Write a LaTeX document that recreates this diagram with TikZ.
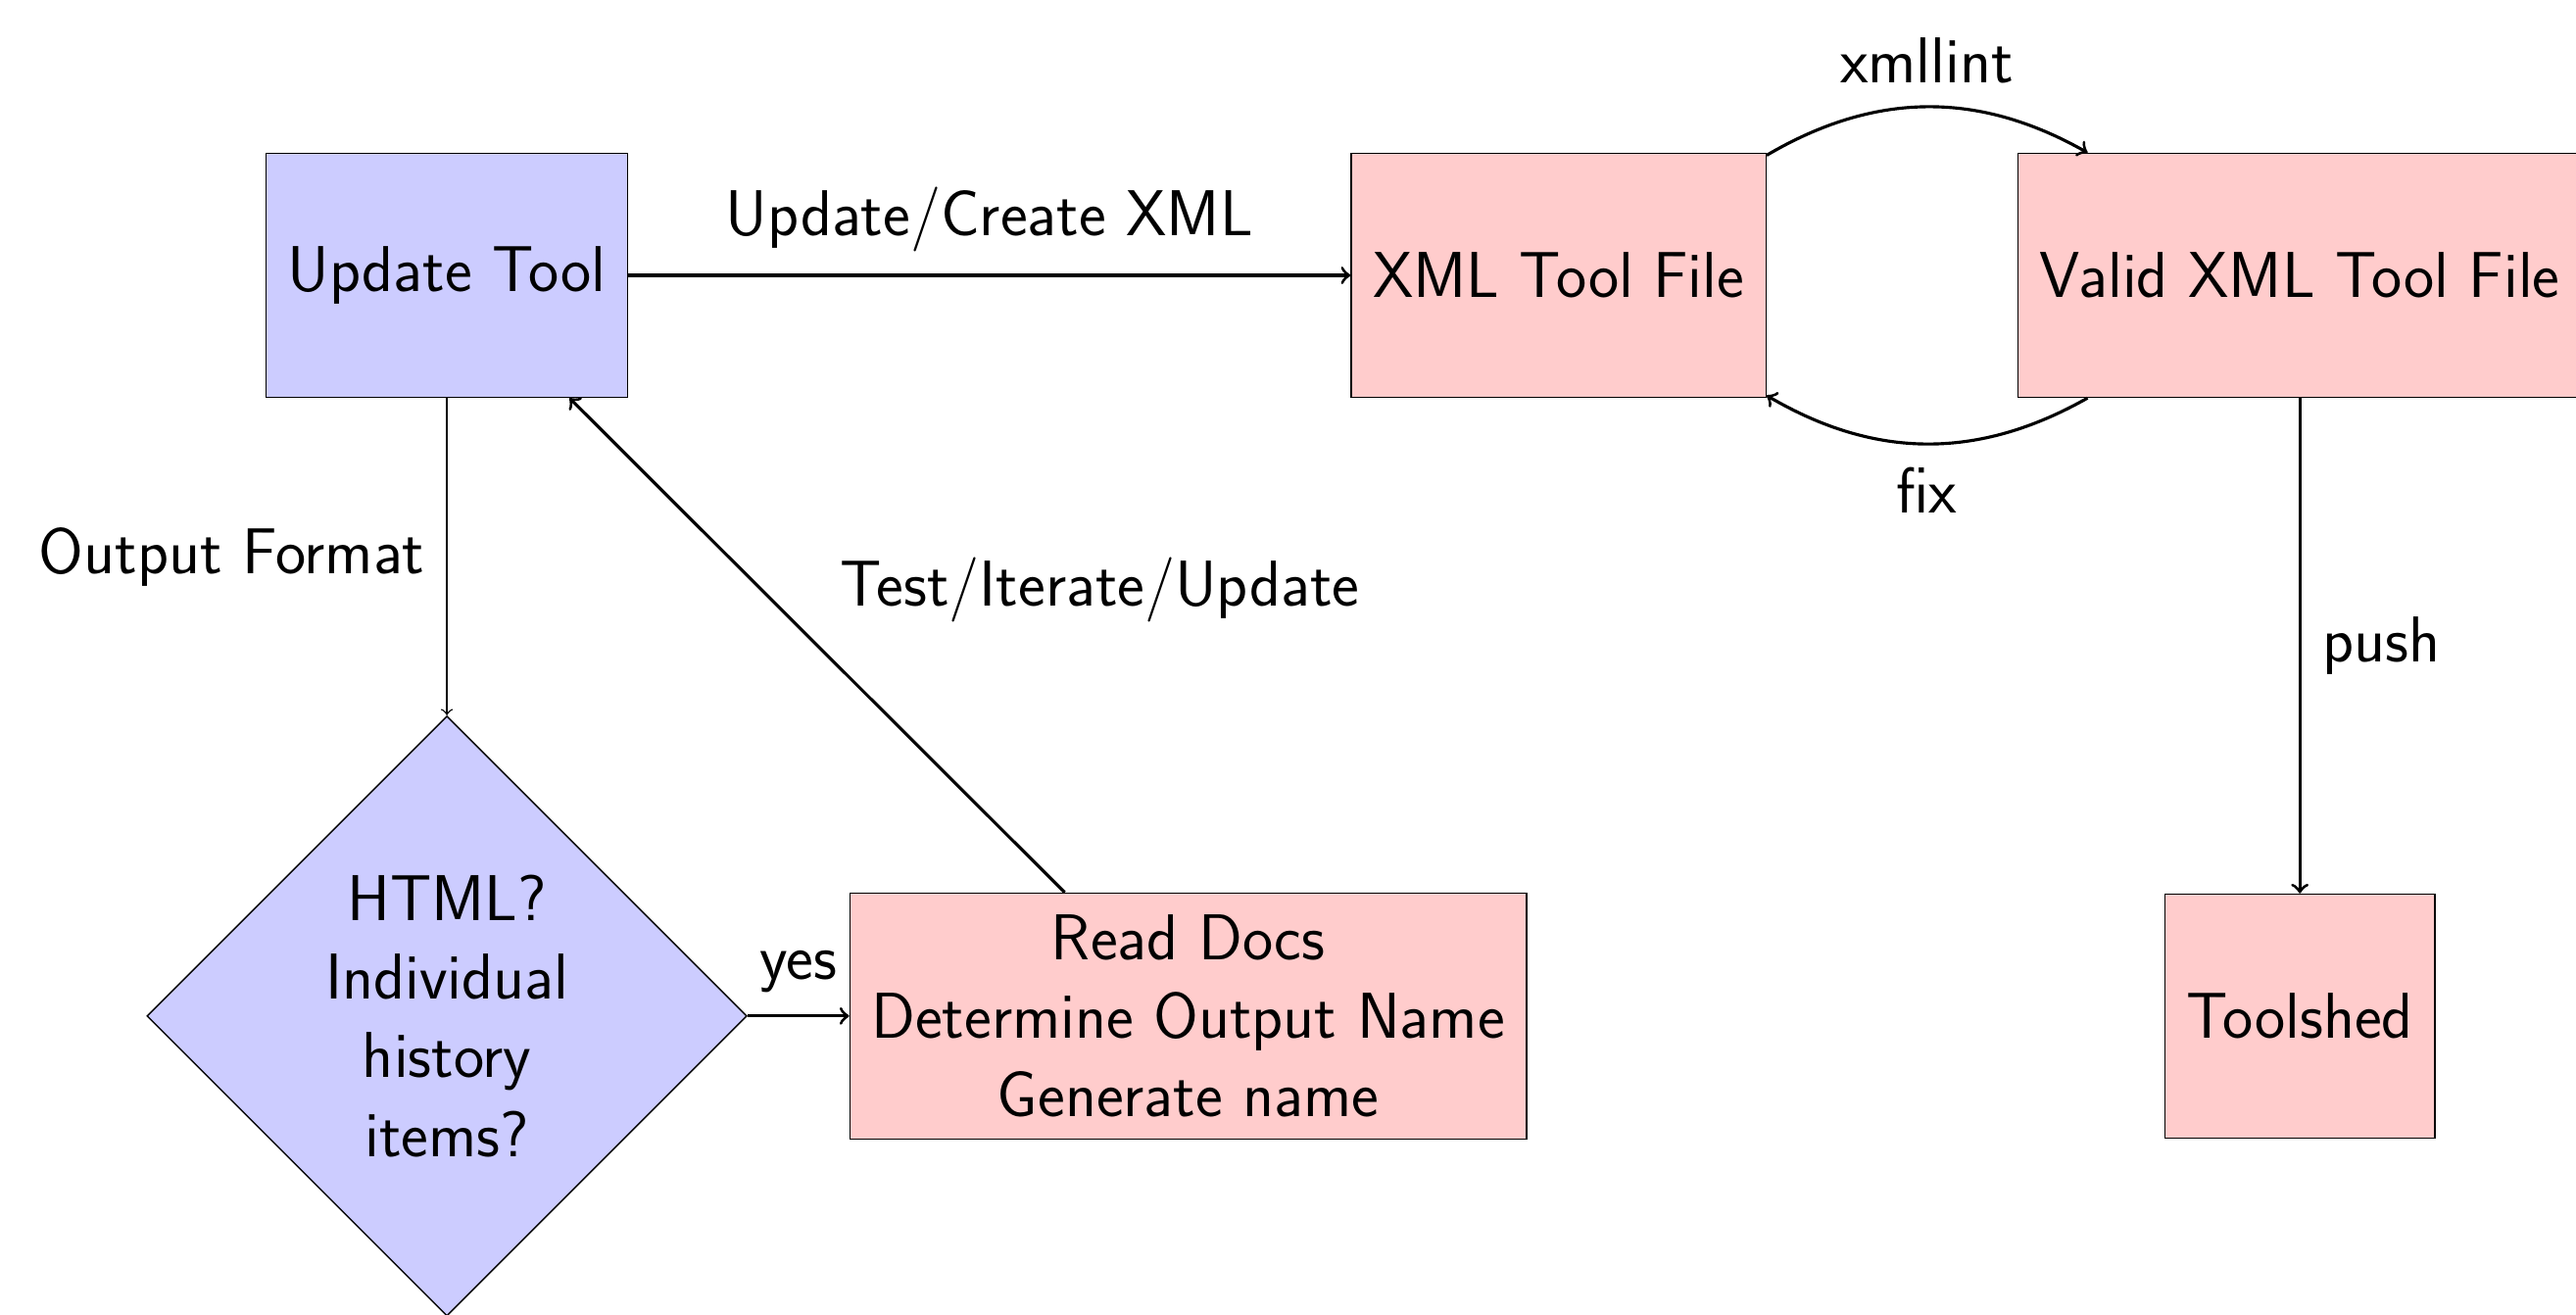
\documentclass[tikz,border=0pt]{standalone}
\usepackage{tikz}
\usetikzlibrary{shapes}
\newcommand{\bigsf}{\sffamily\fontsize{18.9}{22.9}\selectfont}
\tikzstyle{bt}=[rectangle,fill=blue!20,draw=black,inner sep=6.3pt,
  minimum height=2.5cm,font=\bigsf]
\tikzstyle{rt}=[rectangle,fill=red!20,draw=black,inner sep=6.3pt,
  minimum height=2.5cm,font=\bigsf,align=center]
\tikzstyle{dt}=[diamond,aspect=1,fill=blue!20,draw=black,inner sep=0pt,
  minimum size=6.15cm,font=\bigsf,align=center]
\tikzstyle{lbl}=[font=\bigsf,inner sep=6.3pt]
\tikzstyle{ln}=[->,line width=0.9pt]

\begin{document}
\begin{tikzpicture}
    \useasboundingbox (-4.58,-10.645) rectangle (21.82,2.822);
    \node [style=bt] (update) at (0,0) {Update Tool};
    \node [style=rt] (xml) at (11.393,0) {XML Tool File};
    \node [style=rt] (valid) at (18.99,0) {Valid XML Tool File};
    \node [style=dt] (html) at (0,-7.59) {HTML?\\Individual\\history\\items?};
    \node [style=rt] (docs) at (7.597,-7.59) {Read Docs\\Determine Output Name\\Generate name};
    \node [style=rt] (shed) at (18.99,-7.59) {Toolshed};
    \draw [ln] (update) to node[lbl,above] {Update/Create XML} (xml);
    \draw [ln] (xml) to[bend left] node[lbl,above] {xmllint} (valid);
    \draw [ln] (valid) to[bend left] node[lbl,below] {fix} (xml);
    \draw [ln] (valid) to node[lbl,right] {push} (shed);
    \draw [->] (update) to node[lbl,left] {Output Format} (html);
    \draw [ln] (html) to node[lbl,above] {yes} (docs);
    \draw [ln] (docs) to node[lbl,above right] {Test/Iterate/Update} (update);
  \end{tikzpicture}
\end{document}
